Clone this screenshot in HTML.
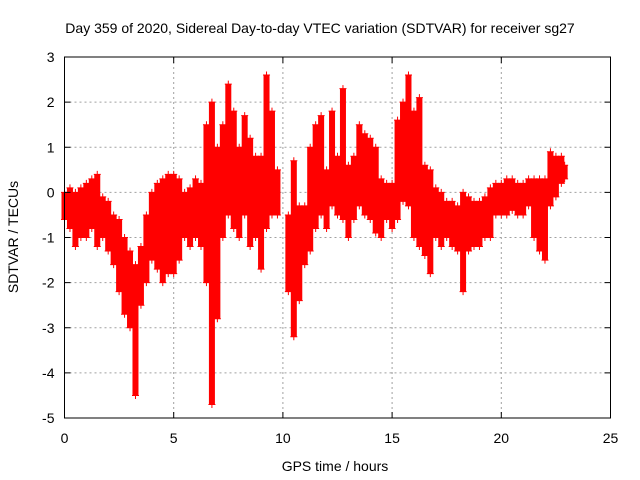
<!DOCTYPE html>
<html><head><meta charset="utf-8"><style>
html,body{margin:0;padding:0;background:#fff}
svg{display:block;font-family:"Liberation Sans",sans-serif}
</style></head><body>
<svg id="c" width="640" height="480" viewBox="0 0 640 480">
<text x="320" y="33" font-size="14" text-anchor="middle">Day 359 of 2020, Sidereal Day-to-day VTEC variation (SDTVAR) for receiver sg27</text>
<text x="335" y="471" font-size="14" text-anchor="middle">GPS time / hours</text>
<text transform="translate(18,237) rotate(-90)" font-size="14" text-anchor="middle">SDTVAR / TECUs</text>
<g id="grid"></g><g id="marks"></g><g id="axes"></g>
</svg>
<script>
const times=[0,0.25,0.5,0.75,1,1.25,1.5,1.75,2,2.25,2.5,2.75,3,3.25,3.5,3.75,4,4.25,4.5,4.75,5,5.25,5.5,5.75,6,6.25,6.5,6.75,7,7.25,7.5,7.75,8,8.25,8.5,8.75,9,9.25,9.5,9.75,10.25,10.5,10.75,11,11.25,11.5,11.75,12,12.25,12.5,12.75,13,13.25,13.5,13.75,14,14.25,14.5,14.75,15,15.25,15.5,15.75,16,16.25,16.5,16.75,17,17.25,17.5,17.75,18,18.25,18.5,18.75,19,19.25,19.5,19.75,20,20.25,20.5,20.75,21,21.25,21.5,21.75,22,22.25,22.5,22.75,22.9];
const lows=[-0.6,-0.8,-1.2,-1.0,-1.0,-0.8,-1.2,-1.0,-1.3,-1.6,-2.2,-2.7,-3.0,-4.5,-2.5,-2.0,-1.5,-1.7,-2.0,-1.8,-1.8,-1.5,-1.0,-1.2,-1.0,-1.2,-2.0,-4.7,-2.8,-1.0,-0.5,-0.8,-1.0,-0.5,-1.2,-1.0,-1.7,-0.8,-0.5,-0.5,-2.2,-3.2,-2.4,-1.6,-1.3,-0.8,-0.5,-0.8,-0.3,-0.5,-0.6,-1.0,-0.6,-0.3,-0.5,-0.6,-0.9,-1.0,-0.6,-0.8,-0.6,-0.2,-0.3,-1.0,-1.2,-1.4,-1.8,-1.0,-1.2,-1.0,-1.2,-1.3,-2.2,-1.3,-1.2,-1.2,-1.0,-1.0,-0.5,-0.5,-0.5,-0.4,-0.5,-0.5,-0.3,-1.0,-1.3,-1.5,-0.3,-0.1,0.2,0.3];
const highs=[0.0,0.1,0.0,0.1,0.2,0.3,0.4,-0.1,-0.2,-0.5,-0.6,-1.0,-1.3,-1.6,-1.2,-0.5,0.0,0.2,0.3,0.4,0.4,0.3,0.0,0.1,0.3,0.2,1.5,2.0,1.0,1.5,2.4,1.8,1.0,1.7,1.2,0.8,0.8,2.6,1.8,0.5,-0.5,0.7,-0.3,-0.3,1.0,1.5,1.7,0.5,1.8,0.8,2.3,0.6,0.8,1.5,1.3,1.2,1.0,0.3,0.2,0.2,1.6,2.0,2.6,1.8,2.1,0.6,0.5,0.1,0.0,-0.2,-0.2,-0.3,0.0,-0.1,-0.2,-0.2,-0.1,0.1,0.2,0.2,0.3,0.3,0.2,0.2,0.3,0.3,0.3,0.3,0.9,0.8,0.8,0.6];
const xTicks=[0,5,10,15,20,25];
const yTicks=[-5,-4,-3,-2,-1,0,1,2,3];
const L=64.5,R=610.5,T=57,B=418;
const xs=v=>L+(v/25)*(R-L);
const ys=v=>B-(v+5)/8*(B-T);
const NS='http://www.w3.org/2000/svg';
function mk(tag,attrs,parent){const e=document.createElementNS(NS,tag);for(const k in attrs)e.setAttribute(k,attrs[k]);parent.appendChild(e);return e;}
const grid=document.getElementById('grid'),axes=document.getElementById('axes'),marks=document.getElementById('marks');
xTicks.forEach(t=>{const x=xs(t);
 if(t>0&&t<25){const g=mk('line',{x1:x,x2:x,y1:T,y2:B,stroke:'#a0a0a0','stroke-dasharray':'2,3'},grid);}
 mk('line',{x1:x,x2:x,y1:B,y2:B-6,stroke:'#000'},axes);mk('line',{x1:x,x2:x,y1:T,y2:T+6,stroke:'#000'},axes);
 const tx=mk('text',{x:x,y:B+25,'font-size':14,'text-anchor':'middle'},axes);tx.textContent=t;
 });
yTicks.forEach(t=>{const y=ys(t);
 if(t>-5&&t<3){const g=mk('line',{x1:L,x2:R,y1:y,y2:y,stroke:'#a0a0a0','stroke-dasharray':'2,3'},grid);}
 mk('line',{x1:L,x2:L+6,y1:y,y2:y,stroke:'#000'},axes);mk('line',{x1:R,x2:R-6,y1:y,y2:y,stroke:'#000'},axes);
 const tx=mk('text',{x:L-10,y:y+5,'font-size':14,'text-anchor':'end'},axes);tx.textContent=t;
 });
const fr=mk('rect',{x:L,y:T,width:R-L,height:B-T,fill:'none',stroke:'#000'},axes);

times.forEach((t,i)=>{const x=xs(t),y1=ys(highs[i]),y2=ys(lows[i]);
 const b=mk('line',{x1:x,x2:x,y1:y1,y2:y2,stroke:'#ff0000','stroke-width':6},marks);
 
 [y1,y2].forEach(y=>{const p=mk('path',{d:`M${x-3.5},${y}h7M${x},${y-3.5}v7`,stroke:'#ff0000','stroke-width':1},marks);
 });
});
</script>
</body></html>
